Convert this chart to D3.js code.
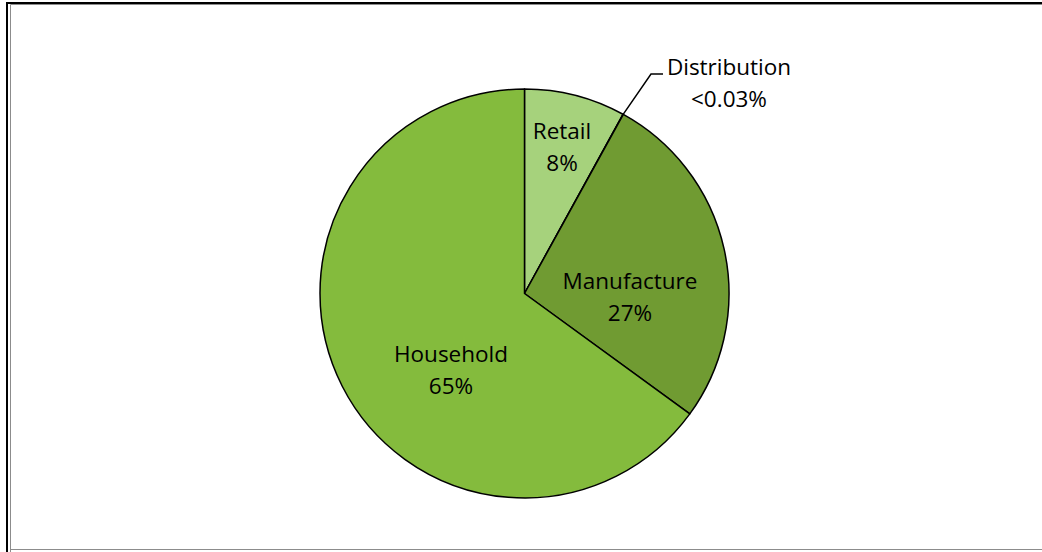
<!DOCTYPE html>
<html><head><meta charset="utf-8">
<script src="https://cdn.jsdelivr.net/npm/d3@7"></script>
<style>body{margin:0;background:#fff}svg{display:block}</style>
</head><body>
<script>
const categories = ["Retail", "Distribution", "Manufacture", "Household"];
const values = [8, 0.03, 27, 65];
const labels = ["8%", "<0.03%", "27%", "65%"];
const colors = ["#A6D27C", "#7AA63A", "#709B32", "#84BB3D"];

const W = 1042, H = 552;
const svg = d3.select("body").append("svg").attr("width", W).attr("height", H);
svg.append("rect").attr("width", W).attr("height", H).attr("fill", "#fff");
// frame
svg.append("path").attr("d", "M7,552 V3 H1042").attr("fill", "none").attr("stroke", "#000").attr("stroke-width", 2);
svg.append("path").attr("d", "M10.5,552 V4.5 H1042").attr("fill", "none").attr("stroke", "#8c8c8c").attr("stroke-width", 1);
svg.append("line").attr("x1", 10).attr("x2", 1042).attr("y1", 549.5).attr("y2", 549.5).attr("stroke", "#8c8c8c").attr("stroke-width", 1);

const cx = 524.5, cy = 293.5, r = 204.5;
const data = categories.map((c, i) => ({ c, v: values[i], l: labels[i], col: colors[i] }));
const pie = d3.pie().value(d => d.v).sort(null);
const arcs = pie(data);
const arc = d3.arc().innerRadius(0).outerRadius(r);
const g = svg.append("g").attr("transform", `translate(${cx},${cy})`);
g.selectAll("path.s").data(arcs).join("path").attr("class", "s")
  .attr("d", arc).attr("fill", d => d.data.col).attr("stroke", "#000").attr("stroke-width", 1.5).attr("stroke-linejoin", "round");

const font = "'Open Sans', sans-serif";
const labelPos = {
  Retail: [562, 131],
  Manufacture: [630, 281],
  Household: [451, 354],
  Distribution: [729, 67]
};
arcs.forEach(a => {
  const p = labelPos[a.data.c];
  const t = svg.append("text").attr("x", p[0]).attr("y", p[1]).attr("text-anchor", "middle")
    .attr("font-family", font).attr("font-size", 22.5).attr("fill", "#000");
  t.append("tspan").attr("x", p[0]).attr("dy", "0.35em").text(a.data.c);
  t.append("tspan").attr("x", p[0]).attr("dy", 32).text(a.data.l);
});
// leader for Distribution
const dist = arcs[1];
const mid = (dist.startAngle + dist.endAngle) / 2;
const px = cx + Math.sin(mid) * r, py = cy - Math.cos(mid) * r;
svg.append("polyline").attr("points", `${px},${py} 651,74 663,74`).attr("fill", "none").attr("stroke", "#000").attr("stroke-width", 1.5);
</script>
</body></html>
